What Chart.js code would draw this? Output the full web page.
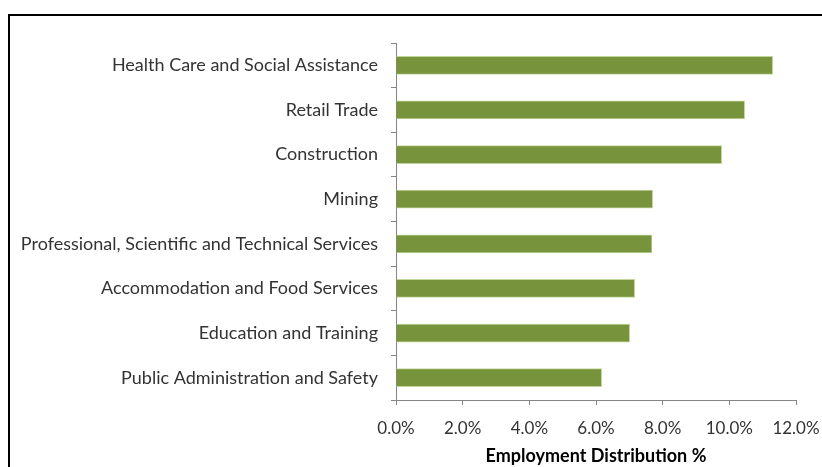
<!DOCTYPE html>
<html>
<head>
<meta charset="utf-8">
<script src="https://cdn.jsdelivr.net/npm/chart.js@4/dist/chart.umd.min.js"></script>
<style>
  html, body { margin: 0; padding: 0; background: #fff; overflow: hidden; }
  #frame { position: absolute; left: 8px; top: 14px; width: 900px; height: 500px; border: 2px solid #000; }
  #wrap { position: absolute; left: 0; top: 0; width: 822px; height: 467px; }
</style>
</head>
<body>
<div id="frame"></div>
<div id="wrap"><canvas id="chart"></canvas></div>
<script>
const industries = [
    'Health Care and Social Assistance',
    'Retail Trade',
    'Construction',
    'Mining',
    'Professional, Scientific and Technical Services',
    'Accommodation and Food Services',
    'Education and Training',
    'Public Administration and Safety'
];
const shares = [11.30, 10.46, 9.77, 7.70, 7.68, 7.16, 7.01, 6.17];
const axisTitle = 'Employment Distribution %';

const ctx = document.getElementById('chart').getContext('2d');
const axisGrey = '#868686';

new Chart(ctx, {
    type: 'bar',
    data: {
        labels: industries,
        datasets: [{
            data: shares,
            backgroundColor: '#77933C',
            borderColor: '#C3D69B',
            borderWidth: 1,
            borderSkipped: 'start',
            barThickness: 18
        }]
    },
    options: {
        indexAxis: 'y',
        responsive: true,
        maintainAspectRatio: false,
        animation: false,
        layout: { padding: { top: 43, right: 26, left: 0, bottom: 0 } },
        plugins: {
            legend: { display: false },
            tooltip: { enabled: false }
        },
        scales: {
            y: {
                afterFit: scale => { scale.width = 396; },
                grid: { drawOnChartArea: false, drawTicks: true, tickLength: 5, color: axisGrey, offset: true },
                border: { color: axisGrey, width: 1 },
                ticks: { color: '#333333', font: { family: 'Lato', size: 18 }, padding: 13 }
            },
            x: {
                min: 0,
                max: 12,
                afterFit: scale => {
                    scale.height = 67;
                    scale.paddingLeft = 0;
                    scale.paddingRight = 0;
                },
                grid: { drawOnChartArea: false, drawTicks: true, tickLength: 5, color: axisGrey },
                border: { color: axisGrey, width: 1 },
                ticks: {
                    stepSize: 2,
                    color: '#333333',
                    font: { family: 'Lato', size: 17 },
                    padding: 13,
                    maxRotation: 0,
                    callback: v => v.toFixed(1) + '%'
                },
                title: {
                    display: true,
                    text: axisTitle,
                    color: '#000',
                    font: { family: 'Lato', size: 18, weight: 'bold' },
                    padding: { top: 2, bottom: 0 }
                }
            }
        }
    }
});
</script>
</body>
</html>
